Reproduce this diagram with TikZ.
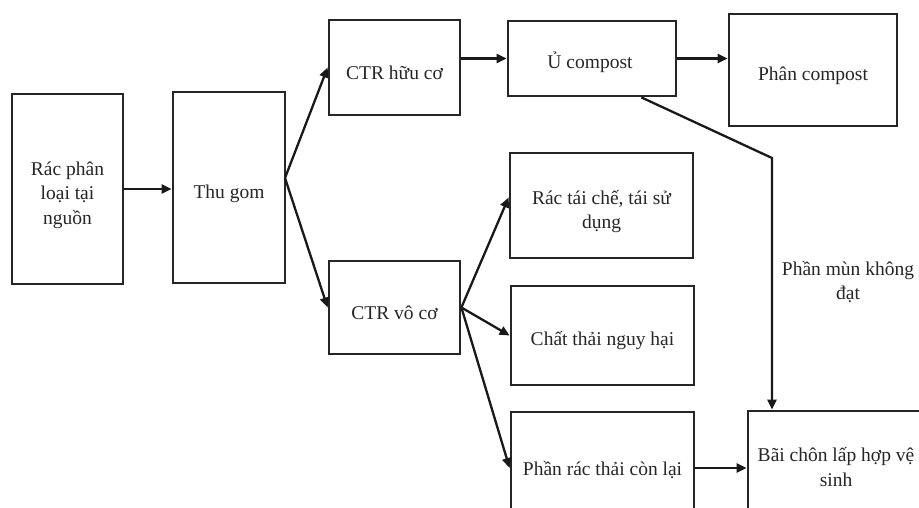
\documentclass[tikz,border=0pt]{standalone}
\usepackage{fontspec}
\setmainfont{Liberation Serif}
\usetikzlibrary{arrows.meta,calc}
\begin{document}
\begin{tikzpicture}[x=1pt,y=-1pt,
  txt/.style={font=\fontsize{19.5}{24.5}\selectfont, text=black!85, align=center, inner sep=0pt},
  box/.style={draw=black!85, line width=2.8pt, inner sep=0pt},
  arr/.style={line width=2.3pt, draw=black!90, -{Triangle[length=10pt,width=9pt]}}]
\useasboundingbox (0,0) rectangle (919,508);
\clip (0,0) rectangle (919,508);
\node[box, minimum width=111pt, minimum height=190pt] (A) at (67.5,189) {};
\node[box, minimum width=112pt, minimum height=191pt] (B) at (229,187.5) {};
\node[box, minimum width=131pt, minimum height=95pt] (C) at (394.5,67.5) {};
\node[box, minimum width=168pt, minimum height=75pt] (D) at (592,58.5) {};
\node[box, minimum width=168pt, minimum height=112pt] (E) at (813,70) {};
\node[box, minimum width=131pt, minimum height=93pt] (F) at (394.5,307.5) {};
\node[box, minimum width=183pt, minimum height=105pt] (G) at (601.5,205.5) {};
\node[box, minimum width=183pt, minimum height=99pt] (H) at (602.5,335.5) {};
\node[box, minimum width=183pt, minimum height=112pt] (I) at (602.5,468) {};
\node[box, minimum width=176pt, minimum height=110pt] (J) at (836,466) {};
\node[txt] (At) at ($(A)+(0,6)$) {Rác phân\\loại tại\\nguồn};
\node[txt] (Bt) at ($(B)+(0,6)$) {Thu gom};
\node[txt] (Ct) at ($(C)+(0,5)$) {CTR hữu cơ};
\node[txt] (Dt) at ($(D)+(-2,4)$) {Ủ compost};
\node[txt] (Et) at ($(E)+(0,6)$) {Phân compost};
\node[txt] (Ft) at ($(F)+(0,5)$) {CTR vô cơ};
\node[txt] (Gt) at ($(G)+(0,6)$) {Rác tái chế, tái sử\\dụng};
\node[txt] (Ht) at ($(H)+(0,5)$) {Chất thải nguy hại};
\node[txt] (It) at ($(I)+(0,2)$) {Phần rác thải còn lại};
\node[txt] (Jt) at ($(J)+(0,1)$) {Bãi chôn lấp hợp vệ\\sinh};
\node[txt] (L) at (848,282) {Phần mùn không\\đạt};
\coordinate (bs) at (285,178);
\coordinate (dk) at (772,158);
\draw[arr] (A.east) -- (A.east -| B.west);
\draw[arr] (bs) -- (C.west);
\draw[arr] (bs) -- (F.west);
\draw[arr] (D.west -| C.east) -- (D.west);
\draw[arr] (D.east) -- (D.east -| E.west);
\draw[arr] (F.east) -- ($(G.west)+(0,-8)$);
\draw[arr] (F.east) -- (H.west);
\draw[arr] (F.east) -- (I.west);
\draw[arr] (I.east) -- (I.east -| J.west);
\draw[arr] ($(D.south east)+(-36,0)$) -- (dk) -- (dk |- J.north);
\end{tikzpicture}
\end{document}
